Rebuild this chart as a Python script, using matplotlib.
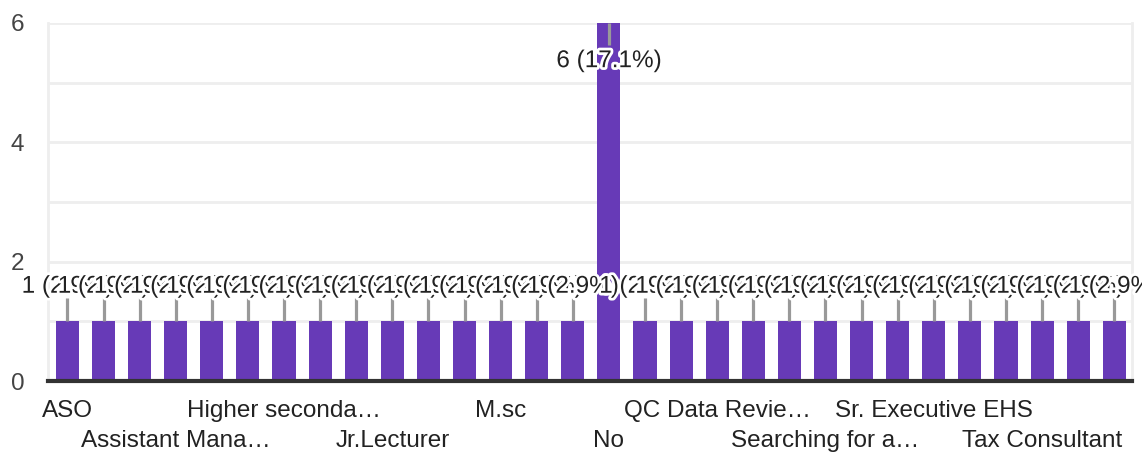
import numpy as np
import matplotlib
matplotlib.use("Agg")
import matplotlib.pyplot as plt
import matplotlib.patheffects as pe

plt.rcParams['font.family'] = ['Liberation Sans', 'DejaVu Sans']

# Answers (alphabetical, as the form lists them) - only every third is shown on the axis
categories = [
    "ASO", "Accountant", "Administrator",
    "Assistant Mana…", "Business", "Chemist",
    "Higher seconda…", "Homemaker", "Intern",
    "Jr.Lecturer", "Lab Technician", "Lecturer",
    "M.sc", "Manager", "Nil",
    "No", "Officer", "Production",
    "QC Data Revie…", "QA Executive", "Research Scholar",
    "Searching for a…", "Self employed", "Software Engineer",
    "Sr. Executive EHS", "Student", "Supervisor",
    "Tax Consultant", "Teacher", "Trainee",
]
counts = [1] * 30
counts[15] = 6

total = sum(counts)
bar_color = "#673ab7"
text_color = "#222222"
grid_color = "#eeeeee"
fs = 17.5

fig = plt.figure(figsize=(11.42, 4.55), dpi=100)
ax = fig.add_axes([0.042, 0.1626, 0.9492, 0.7869])

x = np.arange(len(categories))
ax.bar(x, counts, width=0.64, color=bar_color, zorder=2)

ax.set_xlim(-0.54, len(categories) - 0.51)
ax.set_ylim(0, 6)

# y axis: labelled every 2, grid every 1
ax.set_yticks([0, 2, 4, 6])
ax.set_yticks([1, 3, 5], minor=True)
ax.grid(axis='y', which='both', color=grid_color, linewidth=2, zorder=0)
ax.tick_params(axis='y', which='both', length=0, pad=17, labelsize=fs, labelcolor="#444444")

# x axis: every third label, alternating rows
shown = list(range(0, len(categories), 3))
labels = []
for k, i in enumerate(shown):
    labels.append(categories[i] if k % 2 == 0 else "\n" + categories[i])
ax.set_xticks(shown, labels)
ax.tick_params(axis='x', length=0, pad=14, labelsize=fs, labelcolor=text_color)
for lbl in ax.get_xticklabels():
    lbl.set_linespacing(1.45)

for side in ['top', 'left', 'right']:
    ax.spines[side].set_color(grid_color)
    ax.spines[side].set_linewidth(2)
ax.spines['top'].set_visible(False)
ax.spines['bottom'].set_color("#333333")
ax.spines['bottom'].set_linewidth(3)
ax.spines['bottom'].set_zorder(5)

# data labels with leader lines
ymax = 6
for i, v in enumerate(counts):
    txt = f"{v} ({v / total * 100:.1f}%)"
    if v + 0.7 > ymax:
        line_end = v - 0.37
        ty = v - 0.64
    else:
        line_end = v + 0.39
        ty = v + 0.58
    ax.plot([i, i], [v, line_end], color="#999999", linewidth=2.3, zorder=3,
            solid_capstyle='butt', clip_on=False)
    ax.text(i, ty, txt, ha='center', va='center', fontsize=fs, color=text_color,
            zorder=4 + i * 0.01,
            path_effects=[pe.withStroke(linewidth=4, foreground='white')])

fig.savefig("out.png", dpi=100)
